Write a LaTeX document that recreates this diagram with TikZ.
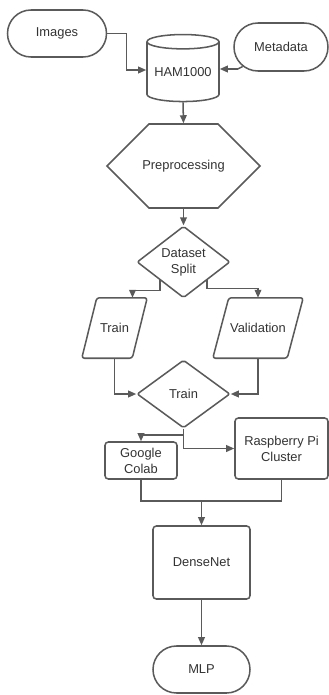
\documentclass[tikz,border=0pt]{standalone}
\usepackage{fontspec}
\setmainfont{Liberation Sans}
\usetikzlibrary{calc,arrows.meta,shapes.geometric,shapes.misc}
\definecolor{edge}{HTML}{5A5A5A}
\definecolor{ink}{HTML}{333333}

\begin{document}
\begin{tikzpicture}[x=0.3mm, y=-0.3mm,
  every node/.style={font=\fontsize{11}{13.5}\selectfont, text=ink, align=center, inner sep=0pt},
  box/.style={draw=edge, line width=1.3pt, fill=white, rounded corners=1mm},
  pill/.style={draw=edge, line width=1.3pt, fill=white, rounded rectangle},
  store/.style={draw=edge, line width=1.3pt, fill=white, cylinder, shape border rotate=90, aspect=0.25},
  prepbox/.style={draw=edge, line width=1.3pt, fill=white, chamfered rectangle, chamfered rectangle xsep=9mm, chamfered rectangle ysep=10.8mm},
  choice/.style={draw=edge, line width=1.3pt, fill=white, diamond, rounded corners=0.6mm},
  datain/.style={draw=edge, line width=1.3pt, rounded corners=0.8mm},
  link/.style={draw=edge, line width=1.3pt, -{Triangle[length=2.4mm,width=2mm]}},
  wire/.style={draw=edge, line width=1.3pt}]
\useasboundingbox (0,0) rectangle (328,695);

\node[pill, minimum width=29.7mm, minimum height=14.1mm] (images) at (57,33.5) {Images};
\node[pill, minimum width=28.2mm, minimum height=14.4mm] (meta) at (281,47) {Metadata};
\node[store, minimum width=21.6mm, minimum height=20.1mm] (ham) at (183,72) {HAM1000};
\node[prepbox, minimum width=45.9mm, minimum height=21.6mm] (prep) at (183.5,166) {Preprocessing};
\node[choice, minimum width=27.9mm, minimum height=21mm] (split) at (183.5,262) {Dataset\\Split};
\node[minimum width=19.5mm, minimum height=18mm] (trainp) at (114.5,328) {Train};
\draw[datain] (trainp.south west) -- ($(trainp.north west)+(15,0)$) -- (trainp.north east) -- ($(trainp.south east)+(-15,0)$) -- cycle;
\node[minimum width=27mm, minimum height=18mm] (valp) at (258,328) {Validation};
\draw[datain] (valp.south west) -- ($(valp.north west)+(16,0)$) -- (valp.north east) -- ($(valp.south east)+(-16,0)$) -- cycle;
\node[choice, minimum width=27.9mm, minimum height=20.4mm] (train) at (183.5,394) {Train};
\node[box, minimum width=21.6mm, minimum height=11.1mm] (colab) at (141,460.5) {Google\\Colab};
\node[box, minimum width=27.9mm, minimum height=18.3mm] (rasp) at (281.5,448.5) {Raspberry Pi\\Cluster};
\node[box, minimum width=29.1mm, minimum height=21.9mm] (dense) at (201.5,562.5) {DenseNet};
\node[pill, minimum width=29.1mm, minimum height=14.1mm] (mlp) at (201.5,669.5) {MLP};

\draw[link] (images.east) -- ++(19,0) |- ($(ham.west)+(0,-2)$);
\draw[link] (meta.207) -- ++(-5,2.5) -- ($(ham.east)+(0,-3)$);
\draw[link] (ham.south) -- (prep.north);
\draw[link] (prep.south) -- (split.north);
\draw[link] (split.south west) -- ++(0,10) -| ($(trainp.north)+(18,0)$);
\draw[link] (split.south east) -- ++(0,8) -| (valp.north);
\draw[link] (trainp.south) |- (train.west);
\draw[link] (valp.south) |- (train.east);
\draw[link] (train.south) |- (rasp.west);
\draw[link] (train.south) -- ++(0,6) -| (colab.north);
\coordinate (join) at ($(dense.north)+(0,-24)$);
\draw[wire] (colab.south) |- (join) -| (rasp.south);
\draw[link] (join) -- (dense.north);
\draw[link] (dense.south) -- (mlp.north);
\end{tikzpicture}
\end{document}
